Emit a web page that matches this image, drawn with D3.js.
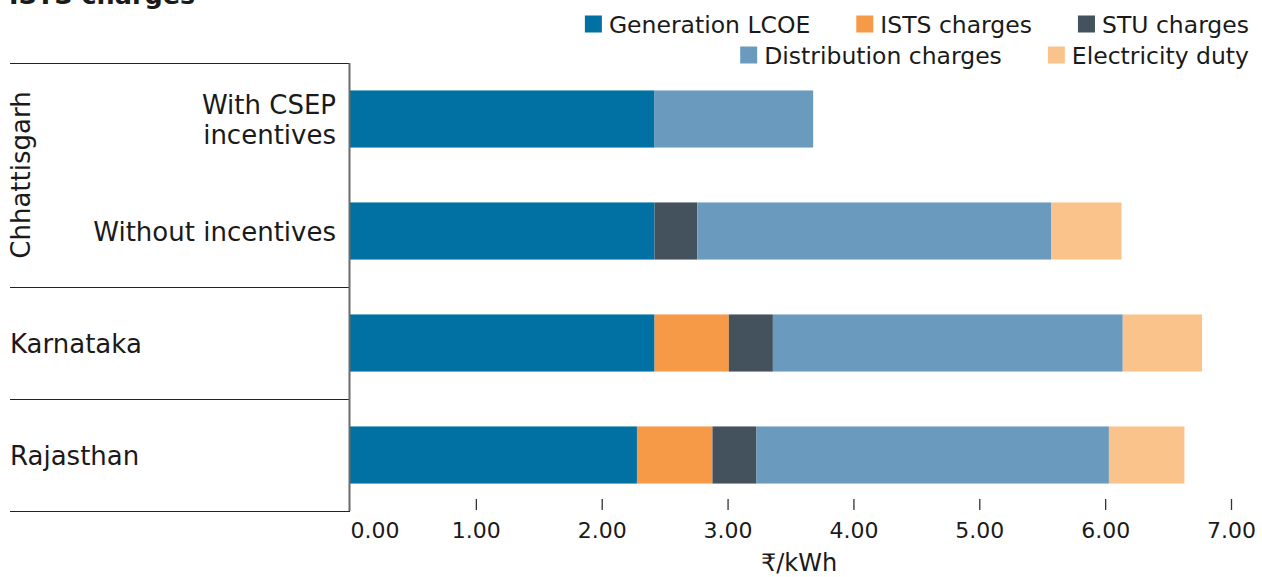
<!DOCTYPE html>
<html>
<head>
<meta charset="utf-8">
<script src="https://cdn.jsdelivr.net/npm/d3@7"></script>
<style>
  body { margin: 0; background: #fff; }
  svg text { font-family: "DejaVu Sans", "Open Sans", sans-serif; fill: #1a1a1a; }
</style>
</head>
<body>
<div id="chart"></div>
<script>
// rows, top to bottom
const rowIds = ["cg_csep", "cg_none", "ka", "rj"];
const rowLabels = [["With CSEP", "incentives"], ["Without incentives"], ["Karnataka"], ["Rajasthan"]];
const groupNames = ["Chhattisgarh", "Karnataka", "Rajasthan"];

const seriesNames = ["Generation LCOE", "ISTS charges", "STU charges", "Distribution charges", "Electricity duty"];
const seriesColors = ["#0170a3", "#f79a47", "#43525c", "#6a9bbf", "#fbc38c"];

// values per series, in row order (₹/kWh)
const generation = [2.42, 2.42, 2.42, 2.28];
const ists = [0, 0, 0.59, 0.60];
const stu = [0, 0.34, 0.35, 0.35];
const distribution = [1.26, 2.81, 2.78, 2.80];
const duty = [0, 0.56, 0.63, 0.60];

const xTicks = [0, 1, 2, 3, 4, 5, 6, 7];

const width = 1262, height = 577;
const plotLeft = 350, plotRight = 1231, plotTop = 63, plotBottom = 511;
const fontFamily = "\"DejaVu Sans\", \"Open Sans\", sans-serif";

const table = rowIds.map((id, i) => ({
    id: id,
    "Generation LCOE": generation[i],
    "ISTS charges": ists[i],
    "STU charges": stu[i],
    "Distribution charges": distribution[i],
    "Electricity duty": duty[i]
}));

const svg = d3.select("#chart").append("svg")
    .attr("width", width)
    .attr("height", height);

const x = d3.scaleLinear().domain([0, 7]).range([plotLeft, plotRight]);
const y = d3.scaleBand().domain(rowIds).range([plotTop, plotBottom])
    .paddingInner(0.49).paddingOuter(0.245);
const color = d3.scaleOrdinal().domain(seriesNames).range(seriesColors);

// title (mostly above the frame, as in the source)
svg.append("text")
    .attr("x", 9).attr("y", 4)
    .style("font-size", "25.5px").style("font-weight", 700)
    .text("ISTS charges");

// stacked bars
const stacked = d3.stack().keys(seriesNames)(table);
svg.append("g")
    .selectAll("g")
    .data(stacked)
    .join("g")
    .attr("fill", d => color(d.key))
    .selectAll("rect")
    .data(d => d)
    .join("rect")
    .attr("x", d => x(d[0]))
    .attr("y", d => y(d.data.id))
    .attr("width", d => x(d[1]) - x(d[0]))
    .attr("height", y.bandwidth());

// x axis: ticks only, no domain line
const axis = svg.append("g")
    .attr("transform", `translate(0, ${plotBottom - 12})`)
    .call(d3.axisBottom(x).tickValues(xTicks).tickFormat(d3.format(".2f")).tickSize(11).tickPadding(12));
axis.select(".domain").remove();
axis.selectAll(".tick line").attr("stroke", "#333").attr("stroke-width", 1.3)
    .filter(d => d === 0).remove();
axis.selectAll(".tick text")
    .attr("fill", "#1a1a1a")
    .style("font-size", "22px")
    .style("font-family", fontFamily)
    .attr("text-anchor", d => d === 0 ? "start" : "middle");

svg.append("text")
    .attr("x", 799).attr("y", 571)
    .attr("text-anchor", "middle")
    .style("font-size", "24px")
    .text("₹/kWh");

// left category table lines
const step = y.step();
const lineY = [plotTop, plotTop + 2 * step, plotTop + 3 * step, plotTop + 4 * step];
svg.append("g")
    .selectAll("line")
    .data(lineY)
    .join("line")
    .attr("x1", 10).attr("x2", plotLeft)
    .attr("y1", d => Math.round(d) + 0.5).attr("y2", d => Math.round(d) + 0.5)
    .attr("stroke", "#222").attr("stroke-width", 1.2);
svg.append("line")
    .attr("x1", plotLeft - 0.5).attr("x2", plotLeft - 0.5)
    .attr("y1", plotTop).attr("y2", plotBottom)
    .attr("stroke", "#6b6b6b").attr("stroke-width", 2);

// sub-labels for Chhattisgarh rows
[0, 1].forEach(i => {
    const lines = rowLabels[i];
    const cy = y(rowIds[i]) + y.bandwidth() / 2;
    const t = svg.append("text")
        .attr("text-anchor", "end")
        .style("font-size", "26px");
    lines.forEach((s, j) => {
        t.append("tspan")
            .attr("x", 336)
            .attr("y", cy + (j - (lines.length - 1) / 2) * 30 + 10)
            .text(s);
    });
});

// group label Chhattisgarh (rotated)
const cgMid = plotTop + step;
svg.append("text")
    .attr("transform", `translate(30, ${cgMid}) rotate(-90)`)
    .attr("text-anchor", "middle")
    .style("font-size", "26px")
    .text(groupNames[0]);

// Karnataka, Rajasthan
[2, 3].forEach((i, k) => {
    svg.append("text")
        .attr("x", 10)
        .attr("y", y(rowIds[i]) + y.bandwidth() / 2 + 10)
        .style("font-size", "26px")
        .text(groupNames[k + 1]);
});

// legend, right aligned in two rows
const legendRows = [[0, 1, 2], [3, 4]];
const legendY = [24, 55];
const legendRight = 1249;
legendRows.forEach((row, r) => {
    let xr = legendRight;
    row.slice().reverse().forEach(si => {
        const g = svg.append("g");
        const t = g.append("text")
            .attr("y", legendY[r] + 9)
            .style("font-size", "23.5px")
            .text(seriesNames[si]);
        const w = t.node().getComputedTextLength();
        t.attr("x", xr - w);
        g.append("rect")
            .attr("x", xr - w - 24).attr("y", legendY[r] - 8.5)
            .attr("width", 17).attr("height", 17)
            .attr("fill", seriesColors[si]);
        xr = xr - w - 24 - 46;
    });
});
</script>
</body>
</html>
